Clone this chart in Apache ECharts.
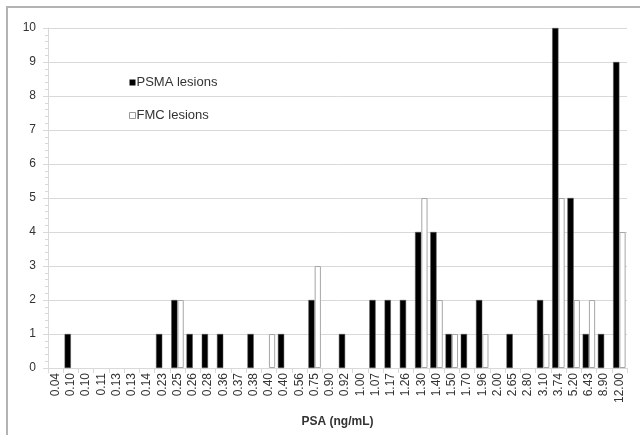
<!DOCTYPE html>
<html>
	<head>
		<meta charset="UTF-8">
		<title>PSA lesions</title>
		<script type="text/javascript" src="https://cdn.jsdelivr.net/npm/echarts@6/dist/echarts.min.js"></script>
	</head>
	<body style="margin:0;">
		<div id="main" style="width: 640px;height: 435px;"></div>
		<script type="text/javascript">
			// PSA categories (ng/mL), one per patient
			var psaLabels=['0.04','0.10','0.10','0.11','0.13','0.13','0.14','0.23','0.25','0.26',
				'0.28','0.36','0.37','0.38','0.40','0.40','0.56','0.75','0.90','0.92',
				'1.00','1.07','1.17','1.26','1.30','1.40','1.50','1.70','1.96','2.00',
				'2.65','2.80','3.10','3.74','5.20','6.43','8.90','12.00'];
			var psmaLesions=[0,1,0,0,0,0,0,1,2,1,
				1,1,0,1,0,1,0,2,0,1,
				0,2,2,2,4,4,1,1,2,0,
				1,0,2,10,5,1,1,9];
			var fmcLesions=[0,0,0,0,0,0,0,0,2,0,
				0,0,0,0,1,0,0,3,0,0,
				0,0,0,0,5,2,1,0,1,0,
				0,0,1,5,2,2,0,4];
			var yTicks=[0,1,2,3,4,5,6,7,8,9,10];

			//0 不画柱子（避免白柱边框在零处出现）
			function noZero(arr){
				return arr.map(function(v){return v===0?'-':v;});
			}

			var myChart=echarts.init(document.getElementById('main'));
			var gridColor='#d9d9d9';
			var textColor='#333';

			var option={
				animation:false,
				backgroundColor:'#fff',
				textStyle:{fontFamily:'Liberation Sans, Arial, sans-serif'},
				//外框
				graphic:[{
					type:'rect',
					shape:{x:7,y:7,width:700,height:500},
					style:{fill:'none',stroke:'#b3b3b3',lineWidth:2},
					silent:true
				}],
				legend:{
					orient:'vertical',
					left:129,
					top:76,
					padding:0,
					itemWidth:6,
					itemHeight:6,
					itemGap:20,
					icon:'rect',
					textStyle:{fontSize:13,color:textColor,padding:[0,0,0,-4]},
					data:[
						{name:'PSMA lesions',itemStyle:{color:'#000',borderWidth:0}},
						{name:'FMC lesions',itemStyle:{color:'#fff',borderColor:'#999',borderWidth:1}}
					]
				},
				grid:{left:48,right:13,top:28,bottom:67},
				xAxis:{
					type:'category',
					data:psaLabels,
					name:'PSA (ng/mL)',
					nameLocation:'middle',
					nameGap:48,
					nameTextStyle:{fontSize:12,fontWeight:'bold',color:textColor},
					axisLine:{lineStyle:{color:gridColor}},
					axisTick:{show:true,length:5,lineStyle:{color:gridColor}},
					axisLabel:{interval:0,rotate:90,fontSize:12,color:textColor,margin:5}
				},
				yAxis:{
					type:'value',
					min:yTicks[0],
					max:yTicks[yTicks.length-1],
					interval:1,
					axisLine:{show:true,lineStyle:{color:gridColor}},
					axisTick:{show:true,length:5,lineStyle:{color:gridColor}},
					minorTick:{show:true,splitNumber:5,length:3,lineStyle:{color:gridColor}},
					axisLabel:{fontSize:12,color:textColor,margin:12},
					splitLine:{lineStyle:{color:gridColor}}
				},
				series:[{
					name:'PSMA lesions',
					type:'bar',
					barGap:'0%',
					barCategoryGap:'18%',
					itemStyle:{color:'#000',borderColor:'#555',borderWidth:0.5},
					data:noZero(psmaLesions)
				},{
					name:'FMC lesions',
					type:'bar',
					itemStyle:{color:'#fff',borderColor:'#a6a6a6',borderWidth:1},
					data:noZero(fmcLesions)
				}]
			};

			myChart.setOption(option);
		</script>
	</body>
</html>
